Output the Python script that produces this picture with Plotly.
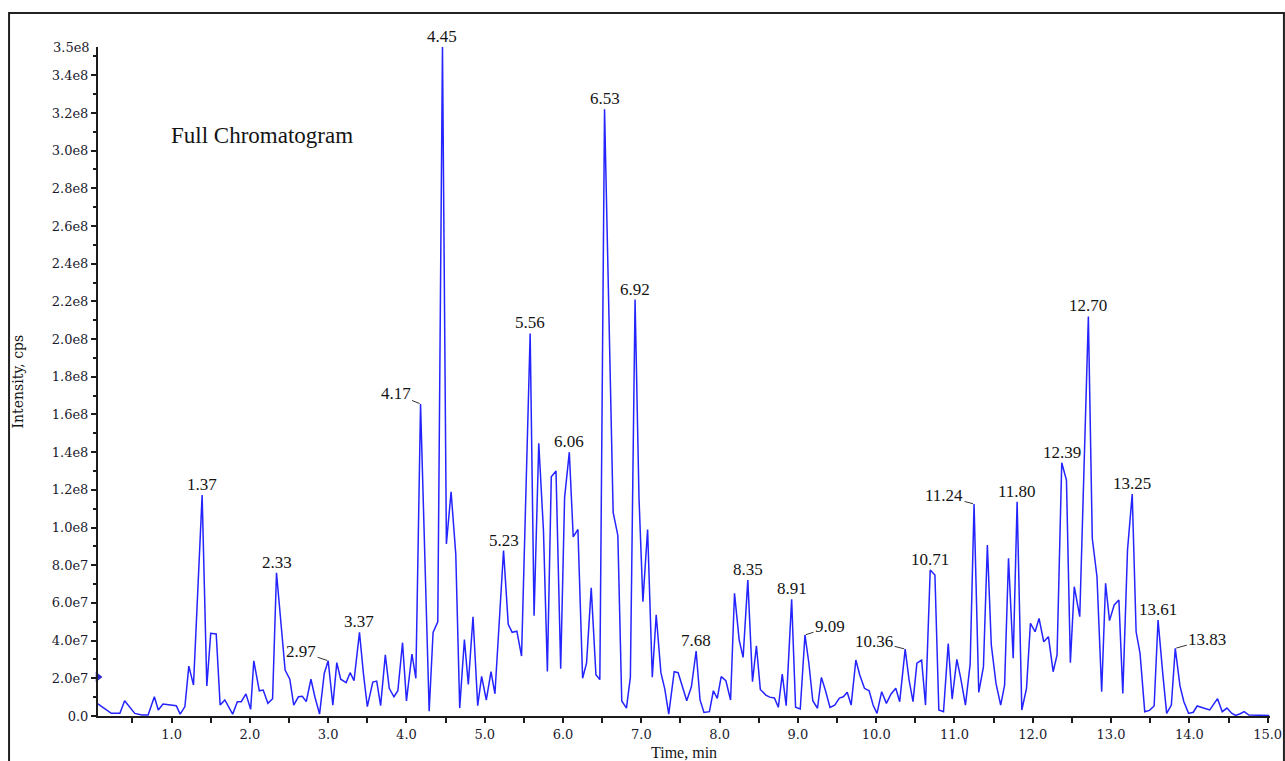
import plotly.graph_objects as go

# ---------------- data (time in min, intensity in units of 1e7 cps) ----------------
time_min = [
    0.06, 0.09, 0.23, 0.34, 0.40, 0.53, 0.62, 0.70, 0.78, 0.83, 0.89, 0.98, 1.06, 1.11, 1.17,
    1.22, 1.28, 1.39, 1.45, 1.50, 1.57, 1.62, 1.68, 1.78, 1.84, 1.89, 1.95, 2.01, 2.05, 2.12,
    2.17, 2.23, 2.29, 2.34, 2.45, 2.51, 2.56, 2.62, 2.67, 2.72, 2.78, 2.83, 2.89, 2.95, 3.00,
    3.06, 3.11, 3.16, 3.23, 3.28, 3.33, 3.40, 3.45, 3.50, 3.57, 3.62, 3.67, 3.73, 3.78, 3.84,
    3.89, 3.95, 4.00, 4.07, 4.12, 4.18, 4.29, 4.34, 4.40, 4.46, 4.51, 4.57, 4.63, 4.68, 4.74,
    4.79, 4.85, 4.91, 4.96, 5.02, 5.08, 5.13, 5.24, 5.30, 5.35, 5.41, 5.47, 5.58, 5.63, 5.69,
    5.75, 5.80, 5.85, 5.91, 5.97, 6.02, 6.08, 6.13, 6.19, 6.25, 6.30, 6.36, 6.42, 6.47, 6.53,
    6.64, 6.70, 6.75, 6.81, 6.86, 6.92, 6.97, 7.02, 7.08, 7.14, 7.19, 7.25, 7.30, 7.35, 7.42,
    7.47, 7.58, 7.64, 7.70, 7.75, 7.80, 7.87, 7.92, 7.97, 8.02, 8.08, 8.14, 8.19, 8.25, 8.30,
    8.36, 8.42, 8.47, 8.52, 8.59, 8.64, 8.70, 8.75, 8.80, 8.85, 8.92, 8.97, 9.03, 9.09, 9.14,
    9.19, 9.25, 9.30, 9.35, 9.41, 9.47, 9.53, 9.58, 9.63, 9.68, 9.74, 9.79, 9.85, 9.91, 9.96,
    10.01, 10.07, 10.13, 10.19, 10.25, 10.30, 10.37, 10.42, 10.47, 10.52, 10.58, 10.63, 10.69, 10.75, 10.80,
    10.86, 10.92, 10.97, 11.03, 11.08, 11.14, 11.20, 11.25, 11.31, 11.37, 11.42, 11.47, 11.53, 11.59, 11.64,
    11.69, 11.75, 11.80, 11.86, 11.92, 11.97, 12.03, 12.08, 12.14, 12.20, 12.26, 12.31, 12.37, 12.43, 12.48,
    12.53, 12.60, 12.71, 12.76, 12.82, 12.88, 12.93, 12.98, 13.04, 13.10, 13.15, 13.21, 13.27, 13.32, 13.37,
    13.43, 13.49, 13.55, 13.60, 13.66, 13.71, 13.77, 13.82, 13.88, 13.93, 13.99, 14.05, 14.10, 14.15, 14.20,
    14.26, 14.31, 14.36, 14.42, 14.48, 14.54, 14.59, 14.65, 14.70, 14.76, 14.85, 14.95, 15.02,
]
intensity_e7 = [
    0.65, 0.55, 0.14, 0.14, 0.81, 0.14, 0.05, 0.05, 1.02, 0.32, 0.64, 0.60, 0.55, 0.10, 0.50,
    2.65, 1.64, 11.72, 1.59, 4.39, 4.35, 0.58, 0.85, 0.10, 0.76, 0.76, 1.17, 0.35, 2.93, 1.34,
    1.38, 0.67, 0.92, 7.60, 2.44, 1.95, 0.58, 1.02, 1.05, 0.76, 1.95, 1.02, 0.10, 2.26, 2.93,
    0.57, 2.83, 1.95, 1.77, 2.30, 1.88, 4.44, 2.26, 0.50, 1.80, 1.85, 0.55, 3.24, 1.47, 1.02,
    1.34, 3.89, 0.80, 3.29, 2.00, 16.56, 0.25, 4.44, 5.00, 35.50, 9.13, 11.90, 8.58, 0.42, 4.06,
    1.68, 5.27, 0.55, 2.10, 0.85, 2.36, 1.18, 8.78, 4.86, 4.44, 4.50, 3.18, 20.30, 5.32, 14.47,
    9.83, 2.36, 12.70, 13.00, 2.51, 11.60, 14.00, 9.50, 9.90, 2.00, 2.80, 6.80, 2.19, 1.93, 32.20,
    10.80, 9.58, 0.80, 0.42, 2.06, 22.10, 11.60, 6.07, 9.90, 2.06, 5.37, 2.30, 1.43, 0.10, 2.35,
    2.30, 0.81, 1.56, 3.45, 0.85, 0.19, 0.23, 1.34, 0.94, 2.09, 1.87, 0.85, 6.51, 4.03, 3.11,
    7.21, 1.82, 3.73, 1.41, 1.11, 1.00, 0.96, 0.46, 2.23, 0.55, 6.19, 0.46, 0.37, 4.30, 2.80,
    0.81, 0.41, 2.05, 1.38, 0.46, 0.58, 0.95, 1.02, 1.26, 0.58, 2.97, 2.18, 1.47, 1.34, 0.58,
    0.14, 1.29, 0.67, 1.17, 1.47, 0.76, 3.55, 1.91, 0.76, 2.80, 2.97, 0.58, 7.75, 7.48, 0.32,
    0.23, 3.84, 0.90, 3.00, 2.00, 0.58, 2.75, 11.25, 1.25, 2.62, 9.07, 3.77, 1.73, 0.58, 1.64,
    8.37, 3.06, 11.37, 0.32, 1.47, 4.92, 4.47, 5.18, 3.94, 4.21, 2.35, 3.24, 13.44, 12.52, 2.83,
    6.86, 5.27, 21.20, 9.43, 7.39, 1.29, 7.04, 5.06, 5.89, 6.15, 1.20, 8.81, 11.78, 4.47, 3.33,
    0.23, 0.30, 0.53, 5.09, 2.26, 0.14, 0.58, 3.59, 1.60, 0.76, 0.14, 0.20, 0.53, 0.45, 0.40,
    0.32, 0.60, 0.92, 0.23, 0.42, 0.15, 0.03, 0.12, 0.23, 0.05, 0.03, 0.03, 0.03,
]

peak_labels = ["1.37", "2.33", "2.97", "3.37", "4.17", "4.45", "5.23", "5.56", "6.06", "6.53",
               "6.92", "7.68", "8.35", "8.91", "9.09", "10.36", "10.71", "11.24", "11.80",
               "12.39", "12.70", "13.25", "13.61", "13.83"]

x_tick_values = [1.0, 2.0, 3.0, 4.0, 5.0, 6.0, 7.0, 8.0, 9.0, 10.0, 11.0, 12.0, 13.0, 14.0, 15.0]
x_tick_labels = ["1.0", "2.0", "3.0", "4.0", "5.0", "6.0", "7.0", "8.0", "9.0", "10.0",
                 "11.0", "12.0", "13.0", "14.0", "15.0"]
y_tick_values = [0, 2e7, 4e7, 6e7, 8e7, 1.0e8, 1.2e8, 1.4e8, 1.6e8, 1.8e8, 2.0e8, 2.2e8,
                 2.4e8, 2.6e8, 2.8e8, 3.0e8, 3.2e8, 3.4e8]
y_tick_labels = ["0.0", "2.0e7", "4.0e7", "6.0e7", "8.0e7", "1.0e8", "1.2e8", "1.4e8", "1.6e8",
                 "1.8e8", "2.0e8", "2.2e8", "2.4e8", "2.6e8", "2.8e8", "3.0e8", "3.2e8", "3.4e8"]
y_top_label = "3.5e8"
y_max = 3.55e8

intensity = [v * 1e7 for v in intensity_e7]

# ---------------- styling ----------------
SERIF = "Liberation Serif, Times New Roman, serif"
WIDE_SERIF = "DejaVu Serif, serif"
LINE_BLUE = "#2424ff"
AX = "#1c1c1c"
TXT = "#141414"
TICK_TXT = "#1a1a2e"

fig = go.Figure()
fig.add_trace(go.Scatter(x=time_min, y=intensity, mode="lines",
                         line=dict(color=LINE_BLUE, width=1.5), hoverinfo="skip"))
# small marker arrow on the intensity axis
fig.add_trace(go.Scatter(x=[0.06], y=[2.07e7], mode="markers", cliponaxis=False,
                         marker=dict(symbol="triangle-right", size=9, color="#2a2ad0"),
                         hoverinfo="skip"))

# leader-line offsets (px) for labels placed beside their peaks
leader = {"2.97": (-27, -9), "4.17": (-25, -10), "9.09": (25, -8), "10.36": (-31, -8),
          "11.24": (-30, -8), "13.83": (32, -9)}

annotations = []
for lab in peak_labels:
    t0 = float(lab)
    cands = [(v, t) for t, v in zip(time_min, intensity) if abs(t - t0) <= 0.04]
    v_pk, t_pk = max(cands)
    if lab in leader:
        ax, ay = leader[lab]
        annotations.append(dict(x=t_pk, y=v_pk, xref="x", yref="y", text=lab,
                                showarrow=True, arrowhead=0, arrowwidth=1, arrowcolor="#333",
                                ax=ax, ay=ay, standoff=1,
                                font=dict(family=SERIF, size=17, color=TXT)))
    else:
        annotations.append(dict(x=t_pk, y=v_pk, xref="x", yref="y", text=lab,
                                showarrow=False, yanchor="middle", yshift=10.5,
                                font=dict(family=SERIF, size=17, color=TXT)))

annotations += [
    dict(x=0.1399, y=0.867, xref="paper", yref="paper", text="Full Chromatogram",
         showarrow=False, xanchor="center", yanchor="middle",
         font=dict(family=SERIF, size=23, color=TXT)),
    dict(x=0.5, y=-0.054, xref="paper", yref="paper", text="Time, min",
         showarrow=False, xanchor="center", yanchor="middle",
         font=dict(family=SERIF, size=16, color=TXT)),
    dict(x=-0.0683, y=0.5, xref="paper", yref="paper", text="Intensity, cps",
         showarrow=False, textangle=-90, xanchor="center", yanchor="middle",
         font=dict(family=WIDE_SERIF, size=14, color=TXT)),
    dict(x=0, y=y_max, xref="paper", yref="y", text=y_top_label, showarrow=False,
         xanchor="right", yanchor="middle", xshift=-6,
         font=dict(family=WIDE_SERIF, size=13, color=TICK_TXT)),
]

fig.update_layout(
    width=1285, height=761, autosize=False,
    margin=dict(l=98, r=15, t=47, b=45),
    paper_bgcolor="white", plot_bgcolor="white",
    showlegend=False,
    annotations=annotations,
    shapes=[dict(type="rect", xref="paper", yref="paper",
                 x0=-0.0759, x1=1.0119, y0=-0.08, y1=1.0508,
                 line=dict(color="#222", width=2), fillcolor="rgba(0,0,0,0)", layer="below")],
    xaxis=dict(range=[0.06, 15.03], automargin=False, tickmode="array", tickvals=x_tick_values,
               ticktext=x_tick_labels, ticks="outside", ticklen=5, tickwidth=1.5,
               tickcolor=AX, showline=True, linecolor=AX, linewidth=2, showgrid=False,
               zeroline=False, tickfont=dict(family=WIDE_SERIF, size=13, color=TICK_TXT),
               minor=dict(tickvals=[i + 0.5 for i in range(15)], ticks="outside", ticklen=5,
                          tickwidth=1.5, tickcolor=AX, showgrid=False)),
    yaxis=dict(range=[0, y_max], automargin=False, tickmode="array", tickvals=y_tick_values,
               ticktext=y_tick_labels, ticks="outside", ticklen=5, tickwidth=1.5,
               tickcolor=AX, showline=True, linecolor=AX, linewidth=2, showgrid=False,
               zeroline=False, tickfont=dict(family=WIDE_SERIF, size=13, color=TICK_TXT),
               minor=dict(tickvals=[1e7 * (2 * i + 1) for i in range(18)], ticks="outside",
                          ticklen=3, tickwidth=1.5, tickcolor=AX, showgrid=False)),
)

fig.write_html("out.html", config={"displayModeBar": False, "responsive": False},
               post_script="document.body.style.margin='0';document.body.style.overflow='hidden';")
